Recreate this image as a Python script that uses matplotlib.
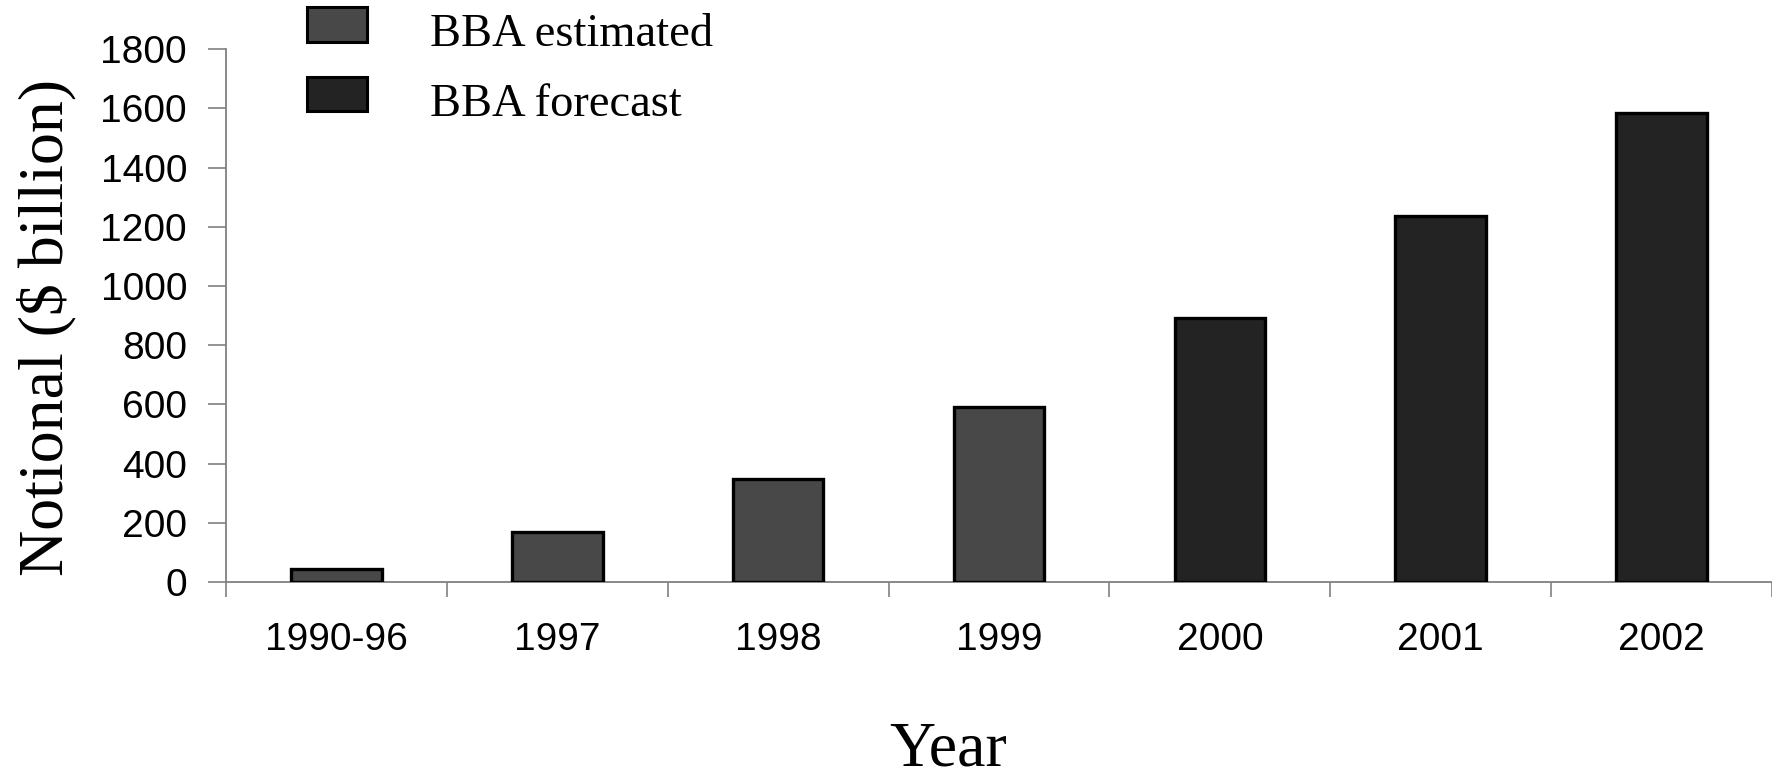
import matplotlib
matplotlib.use("Agg")
import matplotlib.pyplot as plt
from matplotlib.patches import Patch, Rectangle
from matplotlib.legend_handler import HandlerPatch

categories = ["1990-96", "1997", "1998", "1999", "2000", "2001", "2002"]
notional = [44, 170, 348, 590, 892, 1238, 1584]
kind = ["est", "est", "est", "est", "fc", "fc", "fc"]

col_est = "#484848"
col_fc = "#232323"

fig = plt.figure(figsize=(17.72, 7.81), dpi=100)
ax = fig.add_axes([226 / 1772, 1 - 582 / 781, 1 - 226 / 1772, (582 - 49.3) / 781])

x = list(range(len(categories)))
colors = [col_est if k == "est" else col_fc for k in kind]
ax.bar(x, notional, width=0.41, color=colors, edgecolor="black", linewidth=2.4, zorder=3)

ax.set_xlim(-0.5, len(categories) - 0.5)
ax.set_ylim(0, 1800)
ax.set_yticks(range(0, 1801, 200))

# ticks sit between categories, labels in the middle
ax.set_xticks([i - 0.5 for i in range(len(categories) + 1)])
ax.set_xticklabels([])
ax.set_xticks(x, minor=True)
ax.set_xticklabels(categories, minor=True)
ax.tick_params(axis="x", which="major", direction="out", length=11, width=1.2, color="#808080")
ax.tick_params(axis="x", which="minor", length=0, pad=28.5, labelsize=28)
ax.tick_params(axis="y", direction="out", length=13, width=1.2, color="#808080", pad=15, labelsize=28)
for t in ax.get_xticklabels(minor=True) + ax.get_yticklabels():
    t.set_fontfamily("Liberation Sans")

for s in ["top", "right"]:
    ax.spines[s].set_visible(False)
for s in ["left", "bottom"]:
    ax.spines[s].set_color("#808080")
    ax.spines[s].set_linewidth(1.3)

ax.set_ylabel("Notional ($ billion)", fontfamily="Liberation Serif", fontsize=46)
ax.yaxis.set_label_coords(47 / 1772, 1 - 328 / 781, transform=fig.transFigure)
ax.yaxis.label.set_verticalalignment("center")
fig.text(948 / 1772, 1 - 765 / 781, "Year", fontfamily="Liberation Serif", fontsize=46,
         ha="center", va="baseline")


def raised_box(legend, orig_handle, xdescent, ydescent, width, height, fontsize):
    # legend box sits a little higher than the text baseline in the original
    return Rectangle((-xdescent, -ydescent + 4), width, height)


handles = [Patch(facecolor=col_est, edgecolor="black", linewidth=2.2),
           Patch(facecolor=col_fc, edgecolor="black", linewidth=2.2)]
fig.legend(handles, ["BBA estimated", "BBA forecast"], loc="upper left",
           bbox_to_anchor=(307 / 1772, 1 - 12.7 / 781), frameon=False,
           prop={"family": "Liberation Serif", "size": 33.5},
           handlelength=1.29, handleheight=0.77, handletextpad=1.35,
           labelspacing=0.56, borderpad=0, borderaxespad=0,
           handler_map={Patch: HandlerPatch(patch_func=raised_box)})

fig.savefig("out.png", dpi=100)
